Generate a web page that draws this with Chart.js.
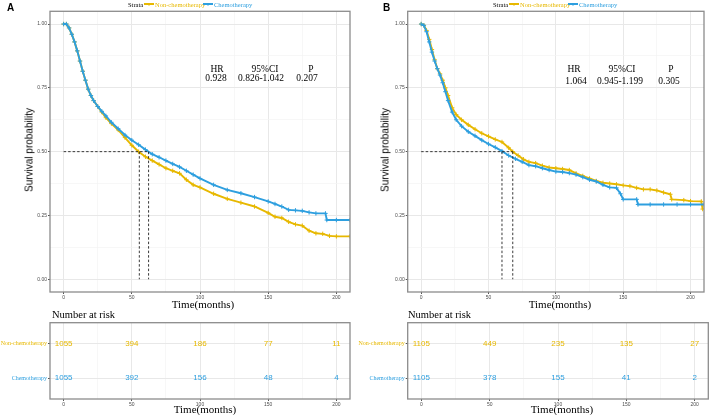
<!DOCTYPE html>
<html>
<head>
<meta charset="utf-8">
<title>Kaplan-Meier: chemotherapy vs non-chemotherapy</title>
<script src="https://cdn.jsdelivr.net/npm/chart.js@4.4.1/dist/chart.umd.min.js"></script>
<style>
    body { margin: 0; background: #fff; width: 709px; height: 415px; position: relative; overflow: hidden; }
    canvas { position: absolute; }
    .t { position: absolute; white-space: nowrap; line-height: 1; }
    .sym { position: absolute; height: 1.5px; }
</style>
</head>
<body>
<canvas id="kmA" width="355" height="300" style="left:0;top:0"></canvas>
<canvas id="kmB" width="354" height="300" style="left:355px;top:0"></canvas>
<canvas id="riskA" width="355" height="115" style="left:0;top:300px"></canvas>
<canvas id="riskB" width="354" height="115" style="left:355px;top:300px"></canvas>

<script>
// --- Data ---
const groups = ['Non-chemotherapy', 'Chemotherapy'];

// Panel A
const timeA_non = [0, 2, 4, 6, 8, 10, 12, 14, 16, 18, 20, 22, 25, 28, 31, 35, 40, 45, 50, 55, 60, 65, 70, 75, 80, 85, 90, 95, 100, 110, 120, 130, 140, 150, 155, 160, 165, 170, 175, 180, 185, 190, 195, 200, 210];
const survA_non = [1, 1, 0.985, 0.96, 0.93, 0.895, 0.855, 0.815, 0.78, 0.745, 0.72, 0.70, 0.677, 0.655, 0.633, 0.61, 0.585, 0.555, 0.525, 0.50, 0.48, 0.465, 0.45, 0.435, 0.425, 0.415, 0.39, 0.37, 0.36, 0.335, 0.315, 0.30, 0.285, 0.26, 0.245, 0.24, 0.225, 0.215, 0.21, 0.19, 0.18, 0.178, 0.17, 0.168, 0.168];
const timeA_chemo = [0, 2, 4, 6, 8, 10, 12, 14, 16, 18, 20, 22, 25, 28, 31, 35, 40, 45, 50, 55, 60, 65, 70, 75, 80, 85, 90, 95, 100, 110, 120, 130, 140, 150, 155, 160, 165, 170, 175, 180, 185, 192, 193, 200, 210];
const survA_chemo = [1, 1, 0.985, 0.96, 0.93, 0.895, 0.855, 0.815, 0.78, 0.745, 0.72, 0.70, 0.677, 0.658, 0.64, 0.615, 0.59, 0.565, 0.545, 0.527, 0.508, 0.49, 0.478, 0.465, 0.452, 0.44, 0.425, 0.41, 0.395, 0.37, 0.35, 0.337, 0.322, 0.305, 0.295, 0.285, 0.272, 0.27, 0.268, 0.262, 0.258, 0.258, 0.232, 0.232, 0.232];
const mediansA = [55.5, 62.3];
const riskTimes = [0, 50, 100, 150, 200];
const riskA_non = [1055, 394, 186, 77, 11];
const riskA_chemo = [1055, 392, 156, 48, 4];
const statsA = ['0.928', '0.826-1.042', '0.207'];

// Panel B
const timeB_non = [0, 2, 4, 6, 8, 10, 12, 14, 16, 18, 20, 23, 26, 30, 35, 40, 45, 50, 55, 60, 65, 68, 72, 76, 80, 85, 90, 95, 100, 105, 110, 115, 120, 125, 130, 135, 140, 145, 150, 155, 160, 165, 170, 175, 180, 185, 186, 195, 200, 208, 209];
const survB_non = [1, 0.995, 0.975, 0.94, 0.9, 0.86, 0.825, 0.805, 0.78, 0.75, 0.72, 0.672, 0.645, 0.625, 0.605, 0.588, 0.572, 0.56, 0.548, 0.538, 0.515, 0.50, 0.485, 0.47, 0.46, 0.455, 0.445, 0.438, 0.435, 0.432, 0.428, 0.415, 0.405, 0.395, 0.385, 0.378, 0.375, 0.372, 0.368, 0.365, 0.358, 0.352, 0.352, 0.348, 0.34, 0.333, 0.313, 0.31, 0.306, 0.305, 0.275];
const timeB_chemo = [0, 2, 4, 6, 8, 10, 12, 14, 16, 18, 20, 23, 26, 30, 35, 40, 45, 50, 55, 60, 65, 70, 75, 80, 85, 90, 95, 100, 105, 110, 115, 120, 125, 130, 135, 140, 145, 148, 150, 160, 161, 170, 180, 190, 200, 210];
const survB_chemo = [1, 0.995, 0.97, 0.93, 0.89, 0.855, 0.825, 0.8, 0.77, 0.735, 0.70, 0.655, 0.625, 0.60, 0.578, 0.562, 0.545, 0.53, 0.517, 0.502, 0.485, 0.472, 0.46, 0.447, 0.443, 0.435, 0.428, 0.422, 0.42, 0.416, 0.41, 0.40, 0.39, 0.383, 0.37, 0.36, 0.358, 0.335, 0.313, 0.313, 0.293, 0.293, 0.293, 0.293, 0.293, 0.293];
const mediansB = [60, 68];
const riskB_non = [1105, 449, 235, 135, 27];
const riskB_chemo = [1105, 378, 155, 41, 2];
const statsB = ['1.064', '0.945-1.199', '0.305'];

const xTicks = [0, 25, 50, 75, 100, 125, 150, 175, 200];
const yTicks = [0, 0.125, 0.25, 0.375, 0.5, 0.625, 0.75, 0.875, 1];

// --- Styling ---
const YELLOW = '#E7B800';
const BLUE = '#2E9FDF';
const SANS = '"Liberation Sans", Arial, sans-serif';
const SERIF = '"Liberation Serif", "Times New Roman", serif';
const GRID_MAJOR = '#e8e8e8';
const GRID_MINOR = '#f3f3f3';

const pts = (xs, ys) => xs.map((x, i) => ({ x: x, y: ys[i] }));

// gray frame round the panel, like ggplot's panel.border
const frame = {
    id: 'frame',
    afterDraw(chart) {
        const a = chart.chartArea, ctx = chart.ctx;
        ctx.save();
        ctx.strokeStyle = '#8c8c8c';
        ctx.lineWidth = 1.3;
        ctx.strokeRect(a.left, a.top, a.right - a.left, a.bottom - a.top);
        ctx.restore();
    }
};

// numbers at risk written at each point
const riskLabels = {
    id: 'riskLabels',
    afterDatasetsDraw(chart) {
        const ctx = chart.ctx;
        ctx.save();
        ctx.font = '8px ' + SANS;
        ctx.textAlign = 'center';
        ctx.textBaseline = 'middle';
        chart.data.datasets.forEach((ds, di) => {
            chart.getDatasetMeta(di).data.forEach((el, i) => {
                ctx.fillStyle = ds.borderColor;
                ctx.fillText(String(ds.data[i].n), el.x, el.y);
            });
        });
        ctx.restore();
    }
};

// the scale boxes are given fixed sizes so the panels line up with the figure
function xScale(h) {
    return {
        type: 'linear', min: -10, max: 210,
        afterBuildTicks: s => { s.ticks = xTicks.map(v => ({ value: v })); },
        afterFit: s => { s.height = h; },
        border: { display: false },
        grid: {
            color: c => (c.tick && c.tick.value % 50 === 0) ? GRID_MAJOR : GRID_MINOR,
            lineWidth: c => (c.tick && c.tick.value % 50 === 0) ? 1 : 0.7,
            tickColor: c => (c.tick && c.tick.value % 50 === 0) ? '#555' : 'rgba(0,0,0,0)',
            tickLength: 2
        },
        ticks: {
            autoSkip: false, maxRotation: 0, padding: 1,
            color: '#4d4d4d', font: { family: SANS, size: 5 },
            callback: v => (v % 50 === 0 ? String(v) : '')
        }
    };
}

function kmChart(id, yw, padR, nonT, nonS, chemoT, chemoS, med) {
    const medLines = [
        { data: [{ x: 0, y: 0.5 }, { x: Math.max(...med), y: 0.5 }] },
        { data: [{ x: med[0], y: 0.5 }, { x: med[0], y: 0 }] },
        { data: [{ x: med[1], y: 0.5 }, { x: med[1], y: 0 }] }
    ].map(d => Object.assign(d, {
        borderColor: '#222', borderWidth: 0.9, borderDash: [2.5, 2],
        pointRadius: 0, order: 0
    }));
    new Chart(document.getElementById(id), {
        type: 'line',
        data: {
            datasets: [
                {
                    label: groups[0], data: pts(nonT, nonS), order: 2,
                    borderColor: YELLOW, backgroundColor: YELLOW, borderWidth: 1.9,
                    pointStyle: 'cross', pointRadius: 2.2, pointBorderWidth: 1, pointBorderColor: YELLOW
                },
                {
                    label: groups[1], data: pts(chemoT, chemoS), order: 1,
                    borderColor: BLUE, backgroundColor: BLUE, borderWidth: 1.9,
                    pointStyle: 'cross', pointRadius: 2.2, pointBorderWidth: 1, pointBorderColor: BLUE
                }
            ].concat(medLines)
        },
        options: {
            responsive: false, animation: false,
            layout: { padding: { left: 0, right: padR, top: 11.3, bottom: 0 } },
            plugins: { legend: { display: false }, tooltip: { enabled: false } },
            elements: { line: { tension: 0 } },
            scales: {
                x: xScale(8),
                y: {
                    type: 'linear', min: -0.05, max: 1.05,
                    afterBuildTicks: s => { s.ticks = yTicks.map(v => ({ value: v })); },
                    afterFit: s => { s.width = yw; },
                    border: { display: false },
                    grid: {
                        color: c => (c.tick && (c.tick.value * 4) % 1 === 0) ? GRID_MAJOR : GRID_MINOR,
                        lineWidth: c => (c.tick && (c.tick.value * 4) % 1 === 0) ? 1 : 0.7,
                        tickColor: c => (c.tick && (c.tick.value * 4) % 1 === 0) ? '#555' : 'rgba(0,0,0,0)',
                        tickLength: 2
                    },
                    ticks: {
                        autoSkip: false, padding: 1,
                        color: '#4d4d4d', font: { family: SANS, size: 5 },
                        callback: v => ((v * 4) % 1 === 0 ? v.toFixed(2) : '')
                    }
                }
            }
        },
        plugins: [frame]
    });
}

function riskChart(id, yw, padR, nonN, chemoN) {
    // row 2 = Non-chemotherapy (top), row 1 = Chemotherapy
    const rows = { 2: groups[0], 1: groups[1] };
    new Chart(document.getElementById(id), {
        type: 'scatter',
        data: {
            datasets: [
                { data: riskTimes.map((t, i) => ({ x: t, y: 2, n: nonN[i] })), borderColor: YELLOW, pointRadius: 0 },
                { data: riskTimes.map((t, i) => ({ x: t, y: 1, n: chemoN[i] })), borderColor: BLUE, pointRadius: 0 }
            ]
        },
        options: {
            responsive: false, animation: false,
            layout: { padding: { left: 0, right: padR, top: 22.7, bottom: 0 } },
            plugins: { legend: { display: false }, tooltip: { enabled: false } },
            scales: {
                x: xScale(16),
                y: {
                    type: 'linear', min: 0.4, max: 2.6,
                    afterBuildTicks: s => { s.ticks = [{ value: 1 }, { value: 2 }]; },
                    afterFit: s => { s.width = yw; },
                    border: { display: false },
                    grid: { color: GRID_MAJOR, lineWidth: 1, tickColor: '#555', tickLength: 2 },
                    ticks: {
                        padding: 1, font: { family: SERIF, size: 6 },
                        color: c => (c.tick && c.tick.value === 2) ? YELLOW : BLUE,
                        callback: v => rows[v] || ''
                    }
                }
            }
        },
        plugins: [frame, riskLabels]
    });
}

kmChart('kmA', 50, 5, timeA_non, survA_non, timeA_chemo, survA_chemo, mediansA);
kmChart('kmB', 52.7, 0.7, timeB_non, survB_non, timeB_chemo, survB_chemo, mediansB);
riskChart('riskA', 50, 5, riskA_non, riskA_chemo);
riskChart('riskB', 52.7, 0.7, riskB_non, riskB_chemo);

// --- Text around the panels ---
function text(str, x, y, font, opts) {
    opts = opts || {};
    const d = document.createElement('div');
    d.className = 't';
    d.textContent = str;
    d.style.left = x + 'px';
    d.style.top = y + 'px';
    d.style.font = font;
    d.style.color = opts.color || '#000';
    let tr = opts.anchor === 'left' ? 'translate(0,-50%)' : 'translate(-50%,-50%)';
    if (opts.rotate) tr += ' rotate(-90deg)';
    d.style.transform = tr;
    document.body.appendChild(d);
}
function legendSym(x0, x1, y, color) {
    const l = document.createElement('div');
    l.className = 'sym';
    l.style.left = x0 + 'px';
    l.style.width = (x1 - x0) + 'px';
    l.style.top = (y - 0.75) + 'px';
    l.style.background = color;
    document.body.appendChild(l);
    text('+', (x0 + x1) / 2, y, 'bold 6px ' + SANS, { color: color });
}

const legendFont = '6.5px ' + SERIF;
const statFont = '9.5px ' + SERIF;
const axisFont = '11px ' + SERIF;

function panelText(o) {
    text(o.letter, o.letterX, 7, 'bold 10px ' + SANS, { anchor: 'left' });
    text('Strata', o.strataX, 4, legendFont, { anchor: 'left' });
    legendSym(o.strataX + 16, o.strataX + 26, 4, YELLOW);
    text(groups[0], o.strataX + 27, 4, legendFont, { anchor: 'left', color: YELLOW });
    legendSym(o.strataX + 75, o.strataX + 85, 4, BLUE);
    text(groups[1], o.strataX + 86, 4, legendFont, { anchor: 'left', color: BLUE });

    text('HR', o.hr[0], 69, statFont);
    text('95%CI', o.hr[1], 69, statFont);
    text('P', o.hr[2], 69, statFont);
    o.stats.forEach((s, i) => text(s, o.hrv[i], o.statY, statFont));

    text('Survival probability', o.ylabX, 150, '10px ' + SANS, { rotate: true });
    text('Time(months)', o.cx, 304, axisFont);
    text('Number at risk', o.nrX, 314, '10.5px ' + SERIF, { anchor: 'left' });
    text('Time(months)', o.cx + 2, 409, axisFont);
}

panelText({ letter: 'A', letterX: 7, strataX: 128, hr: [217, 265, 311], hrv: [216, 261, 307], statY: 78, stats: statsA, ylabX: 28.5, cx: 203, nrX: 52 });
panelText({ letter: 'B', letterX: 383, strataX: 493, hr: [574, 622, 671], hrv: [576, 620, 669], statY: 80.5, stats: statsB, ylabX: 385, cx: 560, nrX: 408 });
</script>
</body>
</html>
